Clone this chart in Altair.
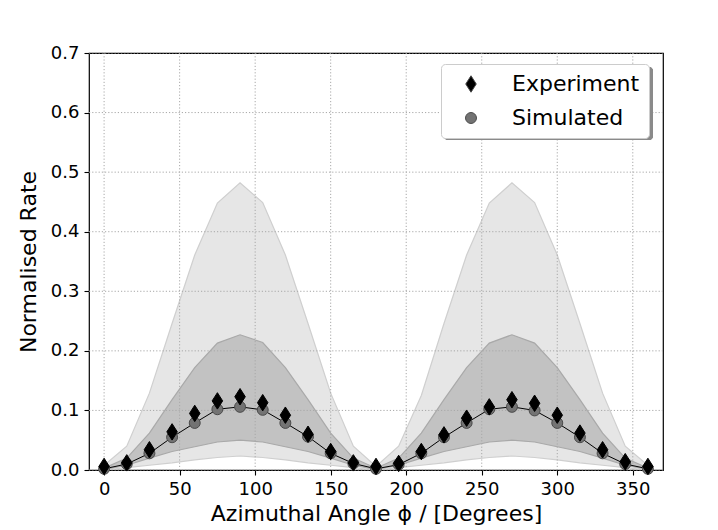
import altair as alt
import pandas as pd

# ---- data ----
angles = list(range(0, 361, 15))

experiment = [0.006, 0.012, 0.034, 0.064, 0.095, 0.116, 0.123, 0.113, 0.092, 0.060, 0.031, 0.012, 0.006,
              0.011, 0.031, 0.059, 0.087, 0.106, 0.118, 0.112, 0.092, 0.062, 0.034, 0.014, 0.006]

simulated = [0.002, 0.010, 0.028, 0.055, 0.079, 0.102, 0.106, 0.101, 0.079, 0.056, 0.028, 0.011, 0.002,
             0.009, 0.028, 0.055, 0.079, 0.102, 0.106, 0.100, 0.079, 0.055, 0.028, 0.010, 0.002]

outer_hi = [0.008, 0.040, 0.129, 0.246, 0.361, 0.448, 0.482, 0.449, 0.361, 0.246, 0.129, 0.040, 0.006,
            0.040, 0.125, 0.246, 0.361, 0.448, 0.482, 0.449, 0.361, 0.246, 0.129, 0.040, 0.008]
outer_lo = [0.000, 0.004, 0.008, 0.012, 0.017, 0.021, 0.0235, 0.021, 0.017, 0.012, 0.008, 0.004, 0.000,
            0.004, 0.008, 0.012, 0.017, 0.021, 0.0235, 0.021, 0.017, 0.012, 0.008, 0.004, 0.000]
inner_hi = [0.003, 0.020, 0.062, 0.118, 0.172, 0.213, 0.227, 0.214, 0.172, 0.118, 0.062, 0.020, 0.003,
            0.020, 0.062, 0.118, 0.172, 0.213, 0.227, 0.213, 0.172, 0.118, 0.062, 0.020, 0.003]
inner_lo = [0.001, 0.008, 0.020, 0.031, 0.039, 0.047, 0.050, 0.047, 0.039, 0.031, 0.020, 0.008, 0.001,
            0.008, 0.020, 0.031, 0.039, 0.047, 0.050, 0.047, 0.039, 0.031, 0.020, 0.008, 0.001]

x_ticks = [0, 50, 100, 150, 200, 250, 300, 350]
y_ticks = [0.0, 0.1, 0.2, 0.3, 0.4, 0.5, 0.6, 0.7]
series_names = ["Experiment", "Simulated"]

# ---- tables ----
bands = pd.DataFrame({"angle": angles, "olo": outer_lo, "ohi": outer_hi,
                      "ilo": inner_lo, "ihi": inner_hi})
exp_df = pd.DataFrame({"angle": angles, "rate": experiment, "series": "Experiment"})
sim_df = pd.DataFrame({"angle": angles, "rate": simulated, "series": "Simulated"})
xg = pd.DataFrame({"v": x_ticks})
yg = pd.DataFrame({"v": y_ticks})

FONT = "DejaVu Sans"
xscale = alt.Scale(domain=[-10, 370], nice=False, zero=False)
yscale = alt.Scale(domain=[0, 0.7], nice=False)

xaxis = alt.Axis(values=x_ticks, title="Azimuthal Angle ϕ / [Degrees]", titlePadding=5,
                 labelPadding=5, format="d")
yaxis = alt.Axis(values=y_ticks, title="Normalised Rate", format=".1f", titlePadding=10,
                 labelPadding=5)

X = alt.X("angle:Q", scale=xscale, axis=xaxis)

outer = alt.Chart(bands).mark_area(color="#e6e6e6", stroke="#cfcfcf", strokeWidth=1.2,
                                   opacity=1).encode(
    x=X, y=alt.Y("olo:Q", scale=yscale, axis=yaxis), y2="ohi:Q")
inner = alt.Chart(bands).mark_area(color="#c2c2c2", stroke="#a9a9a9", strokeWidth=1.2,
                                   opacity=1).encode(
    x=alt.X("angle:Q", scale=xscale), y=alt.Y("ilo:Q", scale=yscale), y2="ihi:Q")

grid_style = dict(color="#a8a8a8", strokeDash=[1.2, 2], strokeWidth=1)
xgrid = alt.Chart(xg).mark_rule(**grid_style).encode(x=alt.X("v:Q", scale=xscale))
ygrid = alt.Chart(yg).mark_rule(**grid_style).encode(y=alt.Y("v:Q", scale=yscale))

line = alt.Chart(sim_df).mark_line(color="black", strokeWidth=1).encode(
    x=alt.X("angle:Q", scale=xscale), y=alt.Y("rate:Q", scale=yscale))

DIAMOND = "M0,-1L0.64,0L0,1L-0.64,0Z"
color_s = alt.Color("series:N", title=None,
                    scale=alt.Scale(domain=series_names, range=["black", "#737373"]))
shape_s = alt.Shape("series:N", title=None,
                    scale=alt.Scale(domain=series_names, range=[DIAMOND, "circle"]))
size_s = alt.Size("series:N", title=None,
                  scale=alt.Scale(domain=series_names, range=[270, 120]))

sim_pts = alt.Chart(sim_df).mark_point(filled=True, opacity=1, stroke="#4a4a4a",
                                       strokeWidth=1).encode(
    x=alt.X("angle:Q", scale=xscale), y=alt.Y("rate:Q", scale=yscale),
    color=color_s, shape=shape_s, size=size_s)
exp_pts = alt.Chart(exp_df).mark_point(filled=True, opacity=1, stroke="black",
                                       strokeWidth=1).encode(
    x=alt.X("angle:Q", scale=xscale), y=alt.Y("rate:Q", scale=yscale),
    color=color_s, shape=shape_s, size=size_s)

# decorative drop shadow behind the legend box
shadow = alt.Chart(xg).mark_rect(color="#8a8a8a", opacity=0.5, cornerRadius=4).encode(
    x=alt.value(355), x2=alt.value(564), y=alt.value(14), y2=alt.value(87))

chart = alt.layer(outer, inner, xgrid, ygrid, line, sim_pts, exp_pts, shadow).properties(
    width=574, height=417,
    autosize=alt.AutoSizeParams(type="none"),
    padding={"left": 81, "top": 45, "right": 47, "bottom": 60},
).configure_view(
    stroke="black", strokeWidth=1.2
).configure_axis(
    grid=False, domain=False, tickColor="black", tickSize=5, tickWidth=1.1,
    labelFont=FONT, labelFontSize=18, labelColor="black",
    titleFont=FONT, titleFontSize=22, titleFontWeight="normal", titleColor="black",
).configure_legend(
    orient="none", legendX=352, legendY=11,
    fillColor="white", strokeColor="#cccccc", strokeWidth=1, cornerRadius=4,
    padding=9, rowPadding=12, symbolOffset=10, labelOffset=30,
    labelFont=FONT, labelFontSize=22, labelColor="black",
    symbolStrokeWidth=1,
)

chart.save("out.html", embed_options={"renderer": "svg", "actions": False})
